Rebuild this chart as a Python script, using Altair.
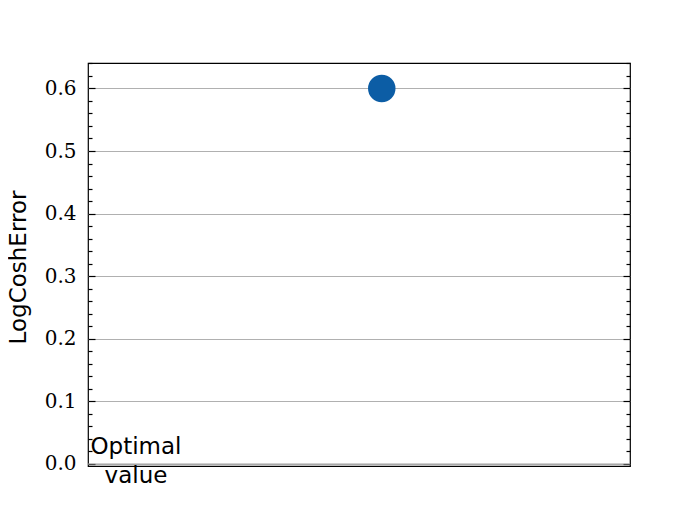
import altair as alt
import pandas as pd

# ---- data ----
steps = [0.0]
metric_values = [0.6]
optimal_value = [0.0]
optimal_text = ["Optimal\nvalue"]
y_domain = [-0.0032, 0.6406]
x_domain = [-0.0542, 0.0458]
major_ticks = [0.0, 0.1, 0.2, 0.3, 0.4, 0.5, 0.6]
minor_ticks = [0.02, 0.04, 0.06, 0.08, 0.12, 0.14, 0.16, 0.18,
               0.22, 0.24, 0.26, 0.28, 0.32, 0.34, 0.36, 0.38,
               0.42, 0.44, 0.46, 0.48, 0.52, 0.54, 0.56, 0.58,
               0.62, 0.64]

pts = pd.DataFrame({"step": steps, "value": metric_values})
opt = pd.DataFrame({"xmin": [x_domain[0]], "xmax": [x_domain[1]],
                    "value": optimal_value, "label": optimal_text})

yscale = alt.Scale(domain=y_domain, nice=False, zero=False)
xscale = alt.Scale(domain=x_domain, nice=False, zero=False)

MAJ_LEN = 7
MIN_LEN = 4

left_major = alt.Axis(
    orient="left",
    values=major_ticks,
    format=".1f",
    grid=True,
    gridColor="#b0b0b0",
    gridWidth=1,
    domain=False,
    offset=-MAJ_LEN,
    tickSize=MAJ_LEN,
    tickColor="black",
    tickWidth=1.2,
    labelPadding=12,
    labelFont="DejaVu Serif",
    labelFontSize=20,
    labelColor="black",
    title="LogCoshError",
    titleFont="DejaVu Sans",
    titleFontSize=23,
    titleFontWeight="normal",
    titleColor="black",
    titleAngle=270,
    titleAlign="center",
    titleBaseline="middle",
    titleX=-77,
    titleY=204,
)

left_minor = alt.Axis(
    orient="left", values=minor_ticks, labels=False, grid=False, domain=False,
    title=None, offset=-MIN_LEN, tickSize=MIN_LEN, tickColor="black", tickWidth=1.2,
)
right_major = alt.Axis(
    orient="right", values=major_ticks, labels=False, grid=False, domain=False,
    title=None, offset=-MAJ_LEN, tickSize=MAJ_LEN, tickColor="black", tickWidth=1.2,
)
right_minor = alt.Axis(
    orient="right", values=minor_ticks, labels=False, grid=False, domain=False,
    title=None, offset=-MIN_LEN, tickSize=MIN_LEN, tickColor="black", tickWidth=1.2,
)

opt_line = alt.Chart(opt).mark_rule(color="#a0a0a0", strokeWidth=1.2).encode(
    x=alt.X("xmin:Q", scale=xscale, axis=None),
    x2="xmax:Q",
    y=alt.Y("value:Q", scale=yscale, axis=left_major),
)

opt_line_ghost = alt.Chart(opt).mark_rule(opacity=0).encode(
    x=alt.X("xmin:Q", scale=xscale, axis=None),
    x2="xmax:Q",
    y=alt.Y("value:Q", scale=yscale, axis=left_minor),
)

opt_text = alt.Chart(opt).mark_text(
    align="center", baseline="middle", lineBreak="\n", lineHeight=29,
    font="DejaVu Sans", fontSize=23, color="black", dx=48, dy=-17,
).encode(
    x=alt.X("xmin:Q", scale=xscale, axis=None),
    y=alt.Y("value:Q", scale=yscale, axis=right_minor),
    text="label:N",
)

points = alt.Chart(pts).mark_circle(size=755, opacity=1, color="#0C5DA5").encode(
    x=alt.X("step:Q", scale=xscale, axis=None),
    y=alt.Y("value:Q", scale=yscale, axis=right_major),
)

chart = alt.layer(opt_line, opt_line_ghost, opt_text, points).resolve_axis(
    y="independent"
).resolve_scale(y="shared").properties(
    width=542, height=403,
    autosize=alt.AutoSizeParams(type="none"),
    padding={"left": 80, "top": 55, "right": 62, "bottom": 51},
    background="white",
).configure_view(stroke="black", strokeWidth=1.2)

chart.save("out.html", embed_options={"renderer": "svg", "actions": False})
